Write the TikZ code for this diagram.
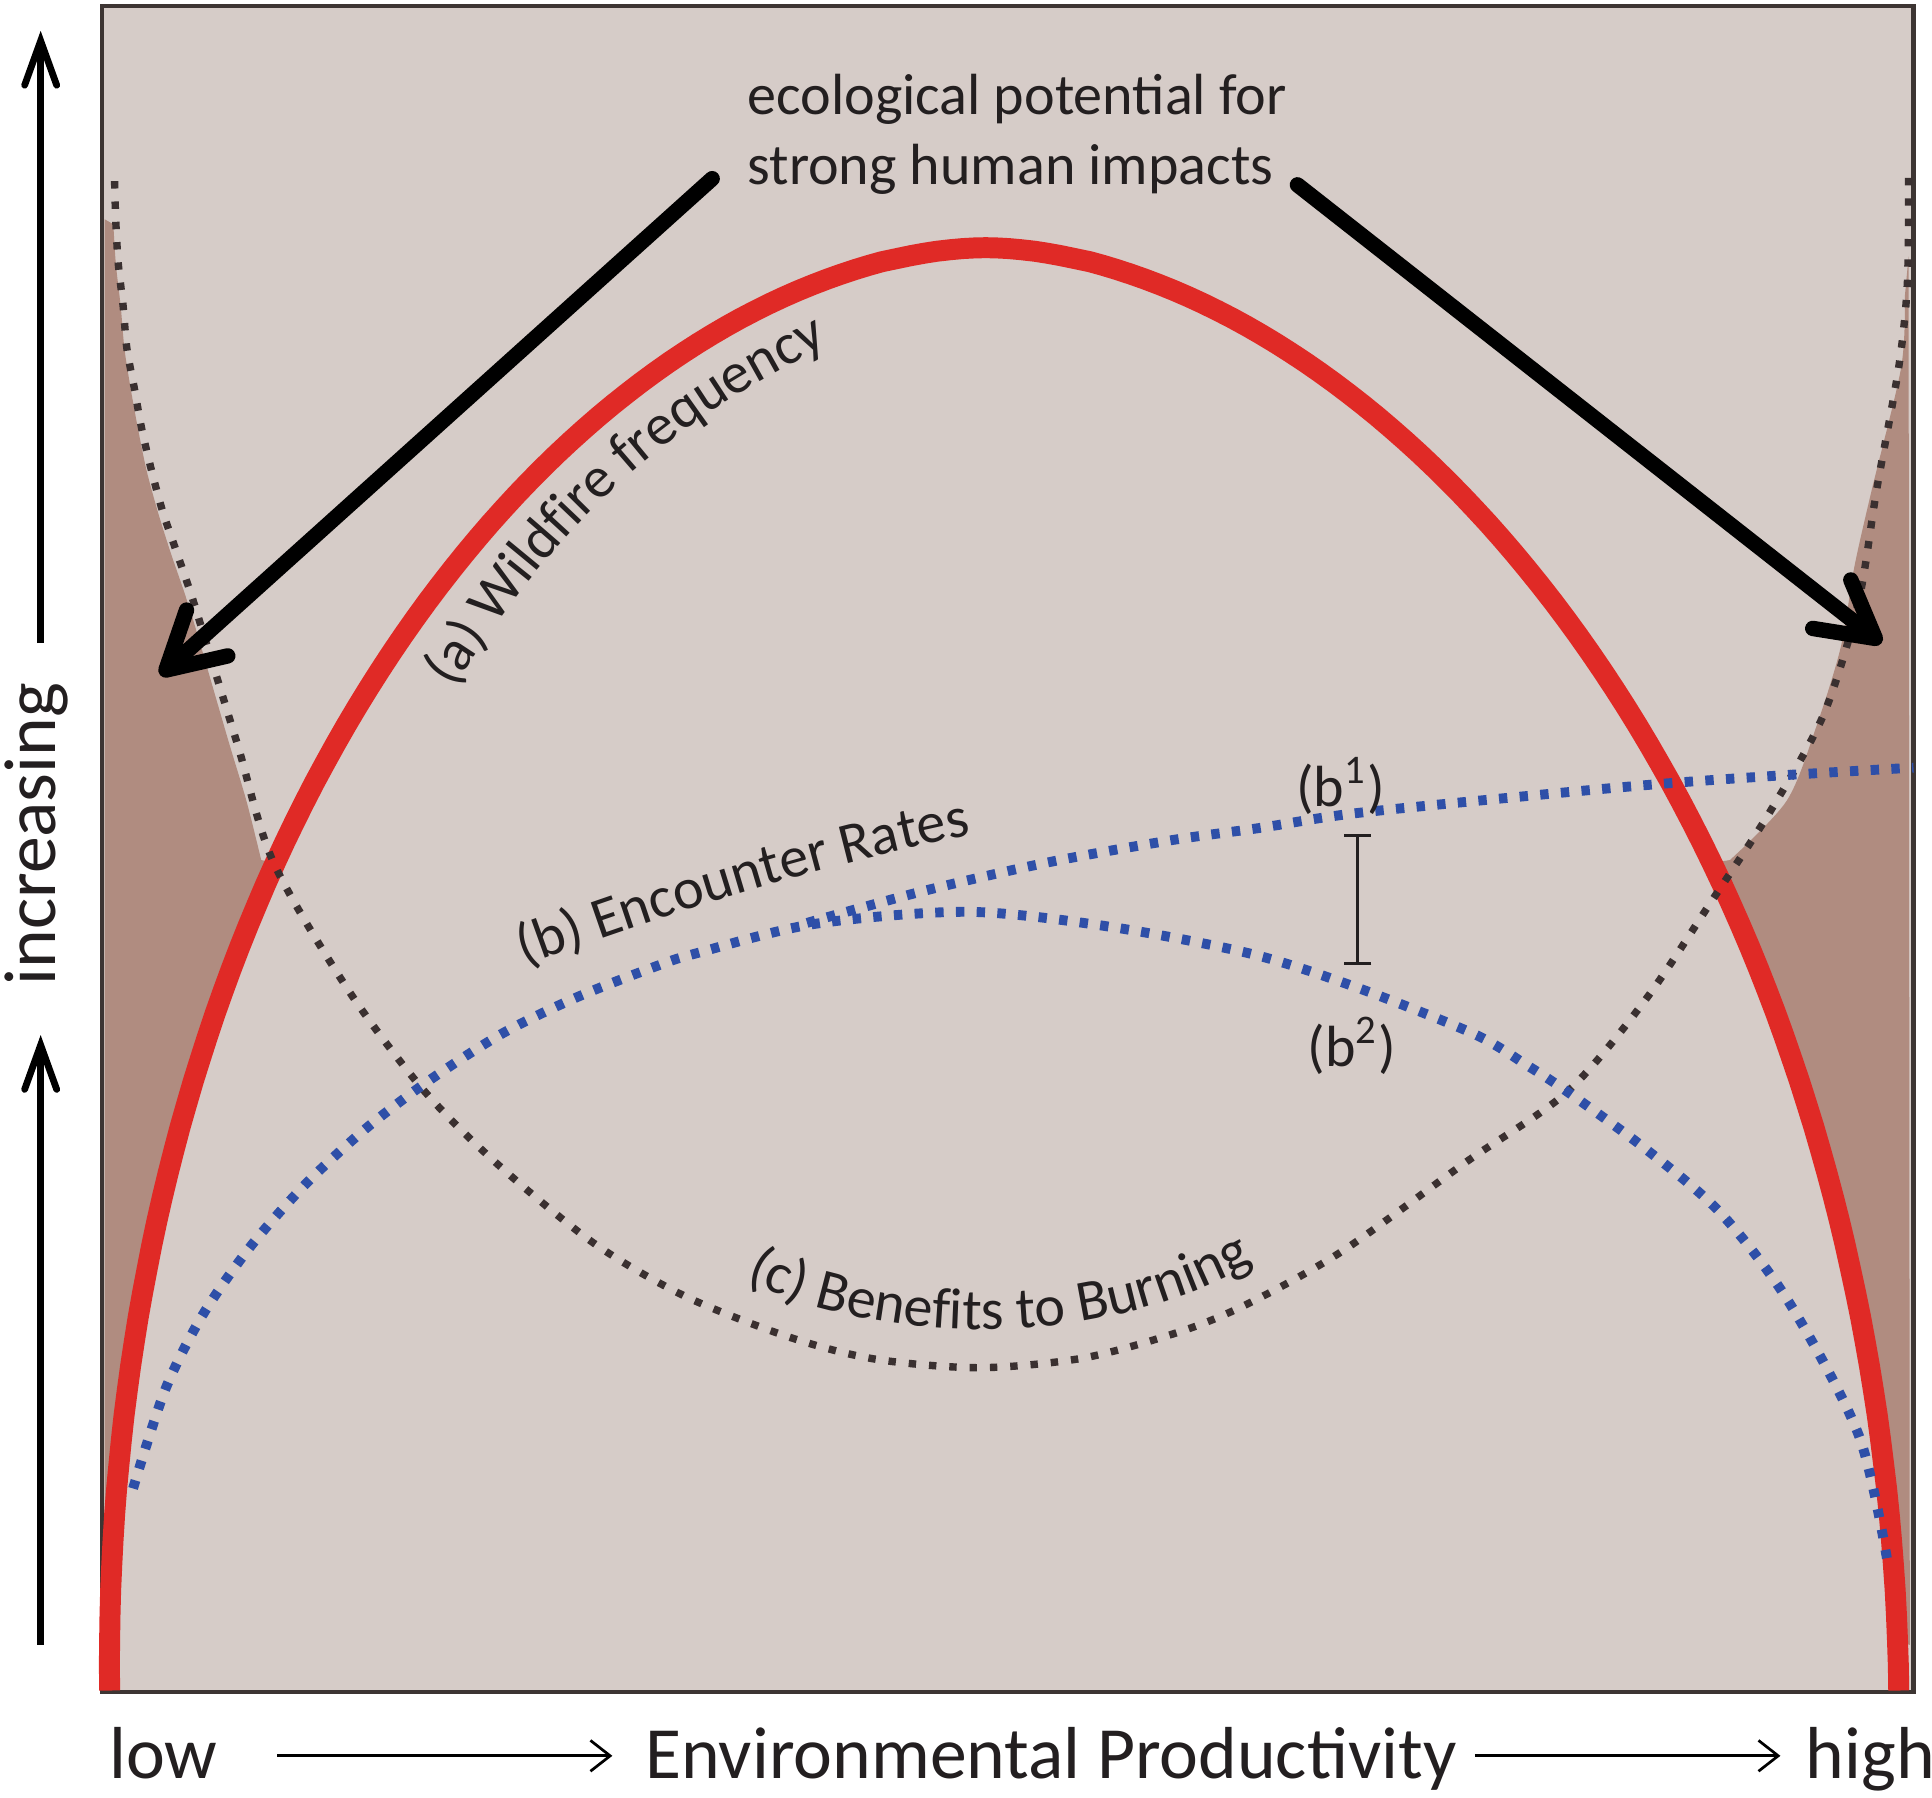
\documentclass[tikz,border=0pt]{standalone}
\usepackage{fontspec}
\setmainfont{Carlito}
\usetikzlibrary{arrows.meta,decorations.text}
\definecolor{bgc}{HTML}{D6CCC8}
\definecolor{shadec}{HTML}{B08C80}
\definecolor{redc}{HTML}{E02A26}
\definecolor{bluec}{HTML}{2E4FA8}
\definecolor{dotc}{HTML}{3A3030}
\definecolor{framec}{HTML}{3D3533}
\definecolor{txtc}{HTML}{231F20}
\newcommand\bigfnt{\fontsize{17pt}{20pt}\selectfont}
\newcommand\smfnt{\fontsize{13.4pt}{16.2pt}\selectfont}
\begin{document}
\begin{tikzpicture}[x=0.01cm,y=-0.01cm,
  declare function={
    uu(\t)=pow(abs(cos(\t))+0.00001,1.1);
    rx(\t)=815-15*sin(\t)+726*sign(cos(\t))*uu(\t);
    ry(\t)=1372-1171*sin(\t);
  },
  redcurve/.style={draw=redc, line width=0.17cm},
  blackdots/.style={draw=dotc, line width=0.06cm, dash pattern=on 0.06cm off 0.105cm},
  bluedots/.style={draw=bluec, line width=0.08cm, dash pattern=on 0.068cm off 0.10cm},
  bigarr/.style={line width=0.125cm, line cap=round, -{Straight Barb[length=0.45cm,width=0.5cm,line cap=round,line join=round]}},
  axarr/.style={line width=0.055cm, -{Straight Barb[length=0.36cm,width=0.26cm,line cap=round]}},
  thinarr/.style={line width=0.022cm, -{Straight Barb[length=0.16cm,width=0.25cm]}},
  errbar/.style={line width=0.025cm, draw=txtc, {Bar[width=0.22cm]}-{Bar[width=0.22cm]}},
  lbl/.style={text=txtc, inner sep=0pt},
  curvelbl/.style={decorate, decoration={text along path, text align=center, text color=txtc, text={|\smfnt|#1}}}
]
\useasboundingbox (0,0) rectangle (1568,1459);
\fill[white] (0,0) rectangle (1568,1459);
% plot area
\fill[bgc] (83,5) rectangle (1553,1373);
% shaded regions
\fill[shadec] (85,178) -- plot[smooth] coordinates {(92,182) (94,214) (98,249) (101,283) (106,315) (112,348) (119,382) (128,415) (138,447) (150,482) (160,514) (185,600) (200,650) (212,698)}
  -- plot[domain=145:178, samples=30, variable=\t] ({rx(\t)},{ry(\t)}) -- (85,1335) -- cycle;
\fill[shadec] (1549,208) -- plot[smooth] coordinates {(1546,240) (1543,298) (1519,398) (1505,460) (1494,525) (1474,590) (1450,650) (1404,698)}
  -- plot[domain=35:2, samples=30, variable=\t] ({rx(\t)},{ry(\t)}) -- (1550,1335) -- cycle;
% frame
\draw[framec, line width=0.035cm] (83,5) rectangle (1553,1373);
% (a) wildfire frequency
\draw[redcurve] plot[domain=180:0, samples=181, variable=\t] ({rx(\t)},{ry(\t)});
% (c) benefits to burning
\draw[blackdots] plot[smooth] coordinates {(93,147) (94,180) (96,214) (100,249) (103,283) (109,315) (115,348) (123,382) (132,415) (143,447) (155,482) (165,514) (193,605) (222,700) (283,804) (344,885) (404,945) (482,1009) (556,1052) (640,1085) (710,1103) (795,1110) (880,1102) (960,1080) (1015,1057) (1090,1015) (1190,943) (1272,886) (1335,812) (1390,730) (1437,658) (1480,580) (1508,490) (1523,398) (1541,298) (1548,230) (1549,144)};
% (b2)
\draw[bluedots] plot[smooth] coordinates {(108,1208) (134,1128) (164,1068) (203,1012) (248,961) (298,915) (351,875) (409,838) (469,809) (533,784) (564,774) (660,750) (785,740) (900,752) (1015,774) (1100,801) (1196,839) (1240,865) (1272,886) (1335,932) (1396,984) (1452,1057) (1509,1166) (1533,1274)};
% (b1)
\draw[bluedots] plot[smooth] coordinates {(655,749) (750,723) (850,700) (950,682) (1022,672) (1100,660) (1250,645) (1350,636) (1450,629) (1553,623)};
% error bar
\coordinate (eb1) at (1102,677);
\coordinate (eb2) at (1102,783);
\draw[errbar] (eb1) -- (eb2);
\node[lbl, font=\smfnt] (bone) at (1088,638) {(b\textsuperscript{1})};
\node[lbl, font=\smfnt] (btwo) at (1097,849) {(b\textsuperscript{2})};
% curve labels
\path[curvelbl={(a) Wildfire frequency}] (352,585) .. controls (430,455) and (520,345) .. (700,268);
\path[curvelbl={(b) Encounter Rates}] (415,788) .. controls (540,742) and (660,703) .. (800,675);
\path[curvelbl={(c) Benefits to Burning}] (600,1037) .. controls (720,1095) and (900,1095) .. (1022,1022);
% title and arrows
\node[lbl, font=\smfnt, anchor=west, align=left] (title) at (606,109) {ecological potential for\\strong human impacts};
\coordinate (ls) at (578,145);
\coordinate (lt) at (130,548);
\coordinate (rs) at (1053,150);
\coordinate (rt) at (1527,522);
\draw[bigarr] (ls) -- (lt);
\draw[bigarr] (rs) -- (rt);
% y axis
\node[lbl, font=\bigfnt, rotate=90] (inc) at (30,677) {increasing};
\coordinate (ya0) at (33,1335);
\coordinate (ya1) at (33,840);
\coordinate (yb0) at (33,522);
\coordinate (yb1) at (33,25);
\draw[axarr] (ya0) -- (ya1);
\draw[axarr] (yb0) -- (yb1);
% x axis
\node[lbl, font=\bigfnt, anchor=base west] (low) at (88,1443) {low};
\node[lbl, font=\bigfnt, anchor=base] (env) at (853,1443) {Environmental Productivity};
\node[lbl, font=\bigfnt, anchor=base west] (high) at (1465,1443) {high};
\coordinate (xa0) at (225,1425);
\coordinate (xa1) at (497,1425);
\coordinate (xb0) at (1197,1425);
\coordinate (xb1) at (1445,1425);
\draw[thinarr] (xa0) -- (xa1);
\draw[thinarr] (xb0) -- (xb1);
\end{tikzpicture}
\end{document}
